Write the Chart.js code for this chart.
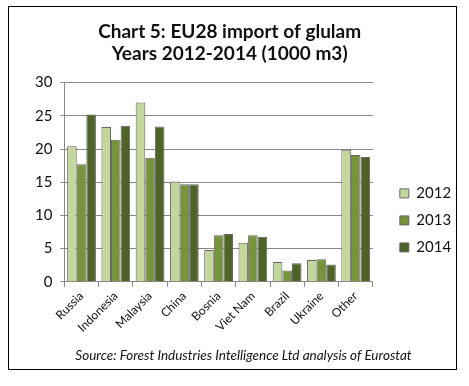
<!DOCTYPE html>
<html>
<head>
<meta charset="utf-8">
<script src="https://cdn.jsdelivr.net/npm/chart.js@4/dist/chart.umd.min.js"></script>
<style>
  html, body { margin: 0; padding: 0; background: #fff; }
  #wrap { position: relative; width: 469px; height: 386px; }
</style>
</head>
<body>
<div id="wrap"><canvas id="chart" width="469" height="386"></canvas></div>
<script>
// EU28 glulam imports, 1000 m3
const countries = ['Russia', 'Indonesia', 'Malaysia', 'China', 'Bosnia', 'Viet Nam', 'Brazil', 'Ukraine', 'Other'];
const years = ['2012', '2013', '2014'];
const imports2012 = [20.4, 23.3, 27.0, 15.1, 4.8, 5.9, 3.0, 3.3, 19.9];
const imports2013 = [17.7, 21.4, 18.7, 14.7, 7.0, 7.0, 1.7, 3.4, 19.1];
const imports2014 = [25.2, 23.5, 23.4, 14.7, 7.2, 6.8, 2.8, 2.6, 18.8];
const yTicks = [0, 5, 10, 15, 20, 25, 30];

const colors = ['#c3d69b', '#77933c', '#4f6228'];
const FONT = 'Lato, "Open Sans", sans-serif';
const NB = '\u00a0\u00a0\u00a0\u00a0\u00a0\u00a0'; // nudges the title a little left of the frame centre

// outer frame around the figure
const framePlugin = {
  id: 'frame',
  afterDraw(chart) {
    const ctx = chart.ctx;
    ctx.save();
    ctx.strokeStyle = '#000';
    ctx.lineWidth = 1;
    ctx.strokeRect(8.5, 6.5, 448, 363);
    ctx.restore();
  }
};

new Chart(document.getElementById('chart'), {
  type: 'bar',
  data: {
    labels: countries,
    datasets: [imports2012, imports2013, imports2014].map((d, i) => ({
      label: years[i],
      data: d,
      backgroundColor: colors[i],
      borderColor: '#666',
      borderWidth: 1,
      categoryPercentage: 0.84,
      barPercentage: 1.0,
    })),
  },
  plugins: [framePlugin],
  options: {
    responsive: false,
    animation: false,
    layout: { padding: { left: 27, right: 9, top: 20, bottom: 22 } },
    plugins: {
      title: {
        display: true,
        text: ['Chart 5: EU28 import of glulam' + NB, 'Years 2012-2014 (1000 m3)' + NB],
        color: '#111',
        font: { family: FONT, size: 19, weight: 'bold', lineHeight: 1.2 },
        padding: { top: 0, bottom: 17 },
      },
      subtitle: {
        display: true,
        position: 'bottom',
        text: 'Source: Forest Industries Intelligence Ltd analysis of Eurostat',
        color: '#111',
        font: { family: FONT, size: 13.5, style: 'italic' },
        padding: { top: 11, bottom: 0 },
      },
      legend: {
        position: 'right',
        title: { display: true, text: ' ', font: { size: 14 }, padding: { top: 0, bottom: 40 } },
        labels: {
          boxWidth: 9,
          boxHeight: 9,
          padding: 12,
          color: '#111',
          font: { family: FONT, size: 15 },
        },
      },
      tooltip: { enabled: false },
    },
    scales: {
      x: {
        grid: { offset: true, drawOnChartArea: false, drawTicks: true, tickLength: 5, color: '#888' },
        border: { color: '#888' },
        ticks: { color: '#111', font: { family: FONT, size: 12 }, minRotation: 45, maxRotation: 45, padding: 2 },
      },
      y: {
        min: 0,
        max: 30,
        afterBuildTicks(axis) { axis.ticks = yTicks.map(v => ({ value: v })); },
        grid: { color: '#888', tickLength: 4 },
        border: { color: '#888' },
        ticks: { color: '#111', font: { family: FONT, size: 15 }, padding: 8 },
      },
      // blank spacer between plot and legend
      gap: {
        position: 'right',
        display: true,
        grid: { display: false },
        border: { display: false },
        ticks: { display: false },
        afterFit(scale) { scale.width = 15; },
      },
    },
  },
});
</script>
</body>
</html>
